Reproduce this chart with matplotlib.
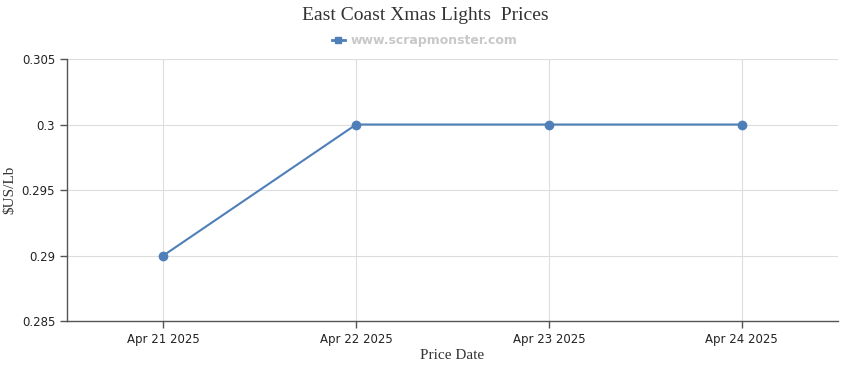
import matplotlib
matplotlib.use("Agg")
import matplotlib.pyplot as plt
from matplotlib.lines import Line2D
from matplotlib.ticker import FixedLocator

dates = ["Apr 21 2025", "Apr 22 2025", "Apr 23 2025", "Apr 24 2025"]
prices = [0.29, 0.30, 0.30, 0.30]
y_ticks = [0.285, 0.29, 0.295, 0.3, 0.305]
y_labels = ["0.285", "0.29", "0.295", "0.3", "0.305"]

line_color = "#4f7fb8"
axis_color = "#555555"
grid_color = "#dddddd"

fig = plt.figure(figsize=(8.5, 3.7), dpi=100)
ax = fig.add_axes([0.0788, 0.1324, 0.9071, 0.7081])

x = list(range(len(dates)))
ax.plot(x, prices, color=line_color, lw=1.5, marker="o", ms=6)

ax.set_xlim(-0.5, len(dates) - 0.5)
ax.set_ylim(y_ticks[0], y_ticks[-1])
ax.xaxis.set_major_locator(FixedLocator(x))
ax.set_xticklabels(dates)
ax.yaxis.set_major_locator(FixedLocator(y_ticks))
ax.set_yticklabels(y_labels)

ax.grid(True, color=grid_color, lw=0.8)
ax.set_axisbelow(True)
for s in ["top", "right"]:
    ax.spines[s].set_visible(False)
for s in ["left", "bottom"]:
    ax.spines[s].set_color(axis_color)
    ax.spines[s].set_linewidth(1.0)
ax.tick_params(axis="both", colors=axis_color, length=5, width=1, labelsize=8.5,
               labelcolor="#222222")

serif = ["Liberation Serif", "DejaVu Serif"]
ax.set_xlabel("Price Date", family=serif, fontsize=11, color="#333333", labelpad=2)
ax.set_ylabel("$US/Lb", family=serif, fontsize=11, color="#333333", labelpad=4)

fig.text(0.5, 0.957, "East Coast Xmas Lights  Prices", ha="center", va="center",
         family=serif, fontsize=14, color="#333333")

# legend entry uses a small square marker, as in the source chart
handle = Line2D([], [], color=line_color, lw=2, marker="s", ms=5)
leg = fig.legend(handles=[handle], labels=["www.scrapmonster.com"], loc="center",
                 bbox_to_anchor=(0.5, 0.89), frameon=False, fontsize=9,
                 handlelength=1.0, handletextpad=0.5)
for t in leg.get_texts():
    t.set_color("#c8c8c8")
    t.set_fontweight("bold")

fig.savefig("out.png", dpi=100)
